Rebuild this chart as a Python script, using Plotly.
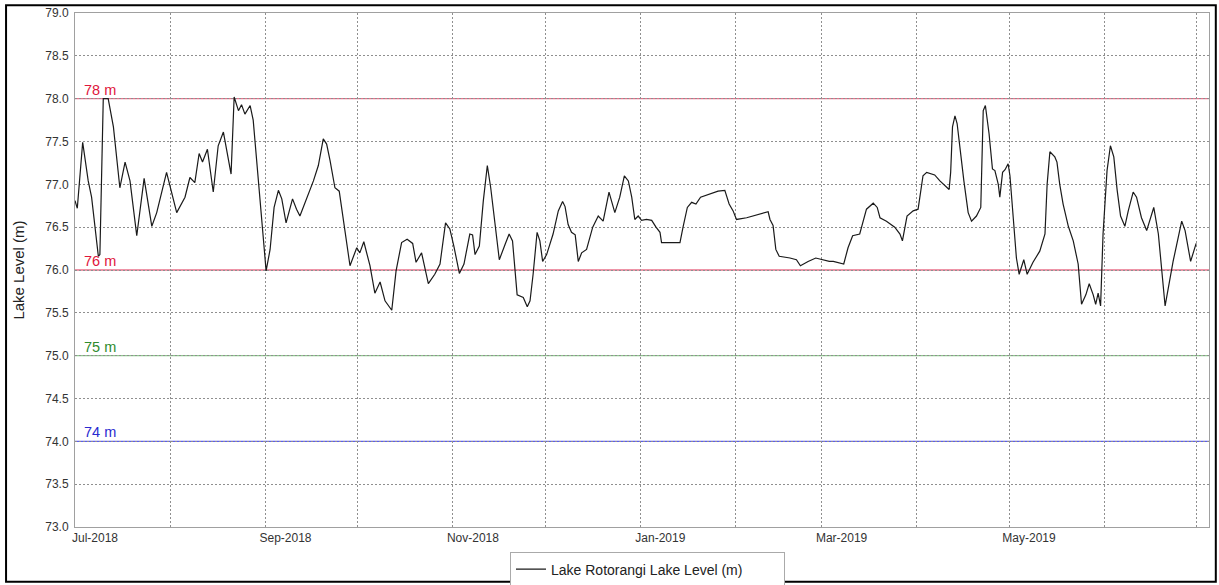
import pandas as pd
import plotly.graph_objects as go

# ---- data ----
START_DATE = "2018-07-01"
day_offsets = [
    0.0, 0.75, 2.5, 4.3, 5.4, 7.6, 8.1, 9.2, 10.8, 12.5, 14.6, 16.3, 17.9, 20.1,
    22.5, 25.0, 26.6, 29.8, 33.1, 35.8, 37.4, 39.0, 40.4, 41.5, 43.1, 45.0, 46.6,
    48.3, 50.8, 51.8, 53.2, 54.2, 55.3, 57.0, 58.0, 59.7, 61.3, 62.2, 63.5, 64.8,
    66.2, 67.3, 68.7, 70.8, 72.1, 73.2, 77.6, 79.2, 80.8, 81.9,
    83.0, 84.6, 86.0, 87.3, 89.5, 91.7, 92.7, 94.0, 96.0, 97.6, 99.3, 100.9,
    103.1, 104.5, 106.3, 108.1, 109.9, 111.0, 112.8, 115.0, 117.1, 118.8, 120.6,
    122.0, 123.3, 125.1, 126.6, 128.5, 129.4, 130.2, 131.6, 132.9, 134.2, 135.3,
    136.2, 137.3, 138.1, 140.0, 141.3, 142.4, 143.2, 143.9, 145.9, 147.2, 148.1,
    149.1, 150.4, 151.3, 152.2, 153.5, 155.6, 157.3, 158.7, 159.5, 160.5, 161.6,
    162.8, 163.8, 164.9, 166.5, 168.5, 170.3, 171.9, 173.8, 175.7, 177.3, 178.8,
    180.1, 181.2, 182.2, 183.3, 184.4, 186.0, 187.7, 189.1, 190.4, 190.9, 193.6,
    196.9, 197.9, 199.3, 200.7, 202.1, 203.6, 206.6, 209.3, 211.5, 212.9, 214.2,
    215.3, 218.6, 221.8, 225.6, 226.2, 227.2, 228.1, 229.2, 232.7, 234.8, 236.1,
    238.6, 241.1, 243.5, 245.5, 246.8, 250.2, 251.6, 253.1, 255.4, 256.5, 257.6,
    259.8, 261.1, 262.0, 264.1, 266.8, 268.5, 269.3, 270.8, 272.8, 274.4, 276.0,
    277.2, 279.8, 281.5, 284.5, 285.0, 285.6, 286.4, 287.1, 288.0, 289.3, 290.7,
    291.8, 293.4, 294.8, 295.6, 296.3, 297.5, 298.6, 299.4, 300.5, 301.0, 301.9,
    302.7, 303.7, 304.3, 305.4, 306.4, 307.3, 308.8, 309.9, 311.8, 314.0, 315.7,
    316.4, 317.3, 318.9, 319.6, 320.5, 321.6, 323.3, 324.9, 326.5, 327.6, 329.0,
    330.1, 331.4, 332.2, 333.0, 333.8, 334.6, 335.9, 337.0, 338.1, 339.2, 340.3,
    341.7, 342.8, 344.4, 345.5, 347.1, 348.8, 351.1, 352.6, 354.8, 357.4, 360.2,
    361.3, 363.1, 364.9,
]
lake_level = [
    76.81, 76.72, 77.49, 77.04, 76.85, 76.16, 76.18, 78.00, 78.00, 77.67, 76.96,
    77.26, 77.04, 76.40, 77.07, 76.51, 76.67, 77.14, 76.67, 76.85, 77.08, 77.02,
    77.36, 77.26, 77.41, 76.91, 77.45, 77.61, 77.12, 78.02, 77.86, 77.93, 77.82,
    77.92, 77.75, 77.04, 76.32, 75.99, 76.24, 76.73, 76.93, 76.83, 76.55, 76.83,
    76.71, 76.63, 77.04, 77.22, 77.53, 77.47,
    77.28, 76.96, 76.92, 76.61, 76.05, 76.26, 76.20, 76.33, 76.05, 75.73, 75.86,
    75.64, 75.53, 75.99, 76.32, 76.36, 76.31, 76.09, 76.20, 75.84, 75.95, 76.07,
    76.55, 76.48, 76.28, 75.96, 76.07, 76.42, 76.41, 76.18, 76.28, 76.81, 77.22,
    76.96, 76.69, 76.42, 76.12, 76.30, 76.42, 76.34, 75.99, 75.71, 75.68, 75.57,
    75.64, 75.95, 76.44, 76.34, 76.10, 76.18, 76.42, 76.69, 76.80, 76.74, 76.53,
    76.44, 76.41, 76.10, 76.20, 76.24, 76.50, 76.63, 76.57, 76.91, 76.67, 76.85,
    77.10, 77.04, 76.85, 76.59, 76.63, 76.58, 76.59, 76.58, 76.50, 76.44, 76.32,
    76.32, 76.32, 76.50, 76.73, 76.79, 76.77, 76.85, 76.89, 76.92, 76.93, 76.77,
    76.69, 76.59, 76.61, 76.64, 76.68, 76.59, 76.52, 76.24, 76.16, 76.14, 76.12,
    76.05, 76.10, 76.14, 76.12, 76.10, 76.10, 76.07, 76.26, 76.40, 76.42, 76.57,
    76.71, 76.78, 76.73, 76.61, 76.57, 76.50, 76.42, 76.34, 76.63, 76.69, 76.71,
    77.10, 77.14, 77.11, 77.04, 76.94, 77.14, 77.67, 77.80, 77.71, 77.43, 77.04,
    76.67, 76.57, 76.63, 76.73, 77.86, 77.92, 77.59, 77.18, 77.16, 77.00, 76.85,
    77.14, 77.17, 77.24, 77.10, 76.65, 76.14, 75.95, 76.12, 75.95, 76.09, 76.22,
    76.42, 77.00, 77.38, 77.32, 77.26, 77.00, 76.77, 76.51, 76.34, 76.07, 75.60,
    75.71, 75.84, 75.71, 75.60, 75.73, 75.58, 76.42, 77.16, 77.45, 77.32, 76.93,
    76.63, 76.51, 76.69, 76.91, 76.85, 76.61, 76.46, 76.73, 76.42, 75.58, 76.10,
    76.57, 76.46, 76.10, 76.31,
]
series_name = "Lake Rotorangi Lake Level (m)"

threshold_levels = [78, 76, 75, 74]
threshold_labels = ["78 m", "76 m", "75 m", "74 m"]
threshold_line_colors = ["#e8708a", "#e8708a", "#8cc98c", "#5b5bf0"]
threshold_text_colors = ["#e0163c", "#e0163c", "#2e8b2e", "#2a2ad0"]

y_min, y_max = 73.0, 79.0
x_range = ["2018-07-01", "2019-07-05 02:00"]

# ---- figure ----
dates = pd.Timestamp(START_DATE) + pd.to_timedelta(day_offsets, unit="D")
FONT = "Liberation Sans, Arial, sans-serif"
GRID = "#8f8f8f"

fig = go.Figure()
fig.add_trace(go.Scatter(
    x=dates, y=lake_level, mode="lines", name=series_name,
    line=dict(color="#1a1a1a", width=1.2),
))

shapes = []
annotations = []
for lvl, lab, lc, tc in zip(threshold_levels, threshold_labels,
                            threshold_line_colors, threshold_text_colors):
    shapes.append(dict(type="line", xref="paper", yref="y", x0=0, x1=1,
                       y0=lvl, y1=lvl, line=dict(color=lc, width=1.3),
                       layer="between"))
    annotations.append(dict(xref="paper", yref="y", x=0.006, y=lvl,
                            xanchor="left", yanchor="bottom", text=lab,
                            showarrow=False, yshift=-1,
                            font=dict(family=FONT, size=14.5, color=tc)))

# outer black frame
shapes.append(dict(type="rect", xref="paper", yref="paper",
                   x0=-0.0608, x1=1.0060, y0=-0.1065, y1=1.0150,
                   line=dict(color="black", width=2), fillcolor="rgba(0,0,0,0)",
                   layer="above"))

fig.update_layout(
    width=1219, height=585,
    margin=dict(l=75, r=10, t=13, b=58, autoexpand=False),
    paper_bgcolor="white", plot_bgcolor="white",
    font=dict(family=FONT, size=12, color="#333"),
    shapes=shapes, annotations=annotations,
    showlegend=True,
    legend=dict(orientation="h", x=0.3836, y=-0.0495, xanchor="left",
                yanchor="top", bordercolor="#aaa", borderwidth=1,
                entrywidth=228, entrywidthmode="pixels",
                bgcolor="white", font=dict(family=FONT, size=14, color="#222")),
)
fig.update_xaxes(
    type="date", range=x_range, tick0="2018-07-01", dtick="M2",
    tickformat="%b-%Y", ticklabelshift=20, ticks="", automargin=False,
    showgrid=True, gridcolor=GRID, griddash="2px,2px", gridwidth=1,
    minor=dict(dtick="M1", tick0="2018-07-01", showgrid=True,
               gridcolor=GRID, griddash="2px,2px", gridwidth=1),
    showline=True, linecolor="#a0a0a0", linewidth=1, mirror=True,
    zeroline=False, tickfont=dict(size=12, color="#333"),
)
fig.update_yaxes(
    range=[y_min, y_max], dtick=0.5, tick0=73, tickformat=".1f",
    showgrid=True, gridcolor=GRID, griddash="2px,2px", gridwidth=1,
    showline=True, linecolor="#a0a0a0", linewidth=1, mirror=True,
    zeroline=False, ticks="", automargin=False, ticklabelstandoff=3,
    tickfont=dict(size=12, color="#333"),
    title=dict(text="Lake Level (m)", font=dict(size=15, color="#222"),
               standoff=16),
)

fig.write_html(
    "out.html",
    config={"displayModeBar": False},
    post_script="document.body.style.margin='0';document.body.style.overflow='hidden';",
)
